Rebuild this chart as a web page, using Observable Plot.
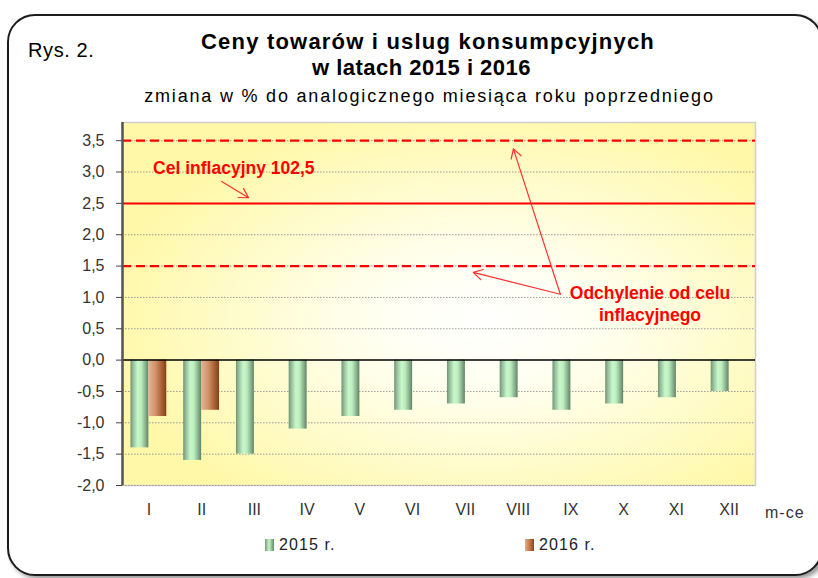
<!DOCTYPE html>
<html>
<head>
<meta charset="utf-8">
<script src="https://cdn.jsdelivr.net/npm/d3@7"></script>
<script src="https://cdn.jsdelivr.net/npm/@observablehq/plot@0.6"></script>
<style>
  html, body { margin: 0; padding: 0; background: #fff; }
  #wrap { position: relative; width: 818px; height: 578px; overflow: hidden; font-family: "Liberation Sans", Arial, sans-serif; }
  #frame { position: absolute; left: 7px; top: 14px; width: 812px; height: 558px; border: 2px solid #1c1c1c; border-radius: 28px; box-shadow: 3px 3px 4px #9a9a9a; background: #fff; }
  .t { position: absolute; white-space: nowrap; line-height: 1; color: #000; }
  #chart { position: absolute; left: 0; top: 0; }
  .sw { position: absolute; width: 9px; height: 12px; }
</style>
</head>
<body>
<div id="wrap">
  <div id="frame"></div>
  <div class="t" id="rys" style="left:28px; top:40px; font-size:20px; letter-spacing:0.6px;">Rys. 2.</div>
  <div class="t" id="title1" style="left:0; width:856px; text-align:center; top:31px; font-size:22px; font-weight:bold; letter-spacing:1.2px;">Ceny towarów i uslug konsumpcyjnych</div>
  <div class="t" id="title2" style="left:0; width:843px; text-align:center; top:57px; font-size:22px; font-weight:bold; letter-spacing:0.5px;">w latach 2015 i 2016</div>
  <div class="t" id="subtitle" style="left:0; width:859px; text-align:center; top:87px; font-size:18px; letter-spacing:1.8px;">zmiana w % do analogicznego miesiąca roku poprzedniego</div>
  <div id="chart"></div>
  <div class="t" style="left:765px; top:505px; font-size:16px; color:#333; letter-spacing:1px;">m-ce</div>
  <div class="sw" style="left:265px; top:539px; background: linear-gradient(to right, #789c7e, #c5f5c6 45%, #5f8a66);"></div>
  <div class="t" style="left:279px; top:537px; font-size:16px; color:#222; letter-spacing:1.1px;">2015 r.</div>
  <div class="sw" style="left:525px; top:539px; background: linear-gradient(to right, #e3ad8c, #c27a4c 50%, #8a4520);"></div>
  <div class="t" style="left:539px; top:537px; font-size:16px; color:#222; letter-spacing:1.1px;">2016 r.</div>
</div>
<script>
// ---- data ----
const months = ["I","II","III","IV","V","VI","VII","VIII","IX","X","XI","XII"];
const values2015 = [-1.4,-1.6,-1.5,-1.1,-0.9,-0.8,-0.7,-0.6,-0.8,-0.7,-0.6,-0.5];
const values2016 = [-0.9,-0.8];
const yTicks = [-2,-1.5,-1,-0.5,0,0.5,1,1.5,2,2.5,3,3.5];
const targetValue = [2.5];
const toleranceValues = [1.5, 3.5];
const targetLabel = [{x: 0.58, y: 3.06, text: "Cel inflacyjny 102,5"}];
const targetArrow = [{x1: 1.88, y1: 2.85, x2: 2.39, y2: 2.59}];
const toleranceLabel = [{x: 10.0, y: 1.06, text: "Odchylenie od celu"}, {x: 10.0, y: 0.72, text: "inflacyjnego"}];
const toleranceArrows = [{x1: 8.30, y1: 1.05, x2: 7.41, y2: 3.37}, {x1: 8.30, y1: 1.05, x2: 6.65, y2: 1.40}];

const bars2015 = values2015.map((v, i) => ({i, v}));
const bars2016 = values2016.map((v, i) => ({i, v}));
const fmt = d => d.toFixed(1).replace(".", ",");

const plot = Plot.plot({
  width: 818,
  height: 578,
  marginLeft: 122,
  marginRight: 63,
  marginTop: 122,
  marginBottom: 93,
  style: {fontFamily: '"Liberation Sans", Arial, sans-serif', background: "transparent", overflow: "visible"},
  x: {domain: [0, 12], axis: null},
  y: {domain: [-2, 3.79], axis: null},
  marks: [
    Plot.frame({fill: "url(#bgGrad)", stroke: "#cfcfcf", strokeWidth: 1.5}),
    Plot.ruleY(yTicks.filter(d => d !== 0), {stroke: "#9a9a9a", strokeWidth: 1, strokeDasharray: "1.5,1.5"}),
    Plot.ruleY(toleranceValues, {stroke: "#ff0000", strokeWidth: 2.2, strokeDasharray: "9,5"}),
    Plot.ruleY(targetValue, {stroke: "#ff0000", strokeWidth: 2}),
    Plot.rectY(bars2015, {x1: d => d.i + 0.16, x2: d => d.i + 0.5, y1: 0, y2: "v", fill: "url(#g2015)"}),
    Plot.rectY(bars2016, {x1: d => d.i + 0.5, x2: d => d.i + 0.84, y1: 0, y2: "v", fill: "url(#g2016)"}),
    Plot.ruleY([0], {stroke: "#000", strokeWidth: 1.5}),
    Plot.ruleX([0], {stroke: "#555", strokeWidth: 2.5}),
    Plot.axisY(yTicks, {anchor: "left", tickSize: 6, tickPadding: 12, tickFormat: fmt, fontSize: 16, stroke: "#444", fill: "#333", ariaLabel: "yaxis"}),
    Plot.axisX(months.map((m, i) => i + 0.5), {anchor: "bottom", tickSize: 0, tickPadding: 18, tickFormat: d => months[Math.floor(d)], fontSize: 16, fill: "#333", ariaLabel: "xaxis"}),
    Plot.arrow(targetArrow, {x1: "x1", y1: "y1", x2: "x2", y2: "y2", stroke: "#ff3030", strokeWidth: 1.2, headLength: 13}),
    Plot.arrow(toleranceArrows, {x1: "x1", y1: "y1", x2: "x2", y2: "y2", stroke: "#ff3030", strokeWidth: 1.2, headLength: 13}),
    Plot.text(targetLabel, {x: "x", y: "y", text: "text", textAnchor: "start", fill: "#ff0000", fontSize: 17.5, fontWeight: "bold", ariaLabel: "annotation"}),
    Plot.text(toleranceLabel, {x: "x", y: "y", text: "text", textAnchor: "middle", fill: "#ff0000", fontSize: 17.5, fontWeight: "bold", ariaLabel: "annotation"})
  ]
});

const svg = d3.select(plot);
const defs = svg.insert("defs", ":first-child");
const bg = defs.append("radialGradient").attr("id", "bgGrad").attr("cx", "0.57").attr("cy", "0.55").attr("r", "0.6");
bg.append("stop").attr("offset", "0").attr("stop-color", "#ffffff");
bg.append("stop").attr("offset", "0.3").attr("stop-color", "#fffff0");
bg.append("stop").attr("offset", "1").attr("stop-color", "#fff8a8");
const g1 = defs.append("linearGradient").attr("id", "g2015").attr("x1", "0").attr("x2", "1").attr("y1", "0").attr("y2", "0");
[[0, "#6f9476"], [0.15, "#96be9b"], [0.4, "#c8f8ca"], [0.6, "#bdeebe"], [0.85, "#86ad8b"], [1, "#5c8463"]].forEach(([o, c]) => g1.append("stop").attr("offset", o).attr("stop-color", c));
const g2 = defs.append("linearGradient").attr("id", "g2016").attr("x1", "0").attr("x2", "1").attr("y1", "0").attr("y2", "0");
[[0, "#e6b394"], [0.4, "#d0926a"], [0.75, "#a95e32"], [1, "#83401b"]].forEach(([o, c]) => g2.append("stop").attr("offset", o).attr("stop-color", c));

svg.selectAll('g[aria-label="annotation"] text').style("letter-spacing", "0.9px");
svg.selectAll('g[aria-label="yaxis"] text, g[aria-label="xaxis"] text').style("letter-spacing", "1.2px");

document.getElementById("chart").appendChild(plot);
</script>
</body>
</html>
